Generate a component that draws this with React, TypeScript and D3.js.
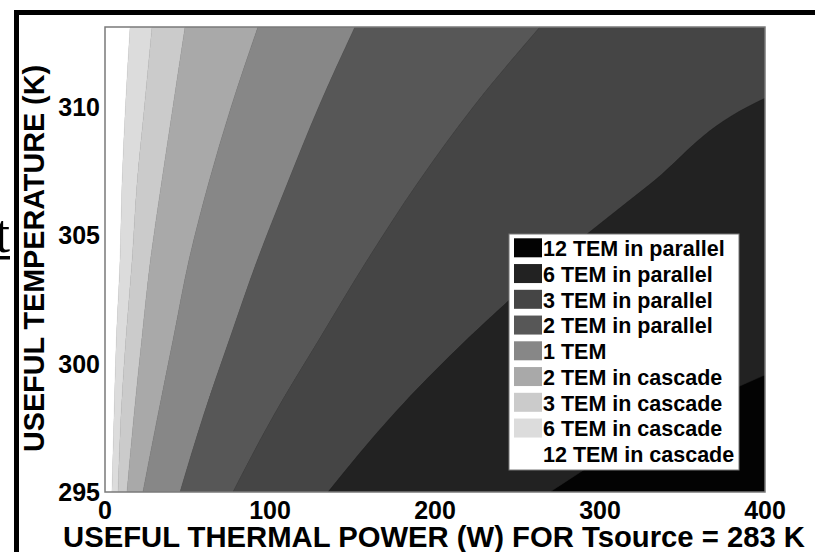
import React from "react";
import * as d3 from "d3";

// Temperature levels (K) at which the switching power of each boundary was read
const temperatures = [295, 298, 301, 304, 307, 310, 313.1];

// Switching power (W) between adjacent optimal configurations
const b12Cascade_6Cascade = [4.2, 5.5, 6.9, 9.1, 10.3, 12.4, 15.2];
const b6Cascade_3Cascade = [7.9, 9.7, 12.7, 16.4, 19.4, 23.9, 28.5];
const b3Cascade_2Cascade = [13.3, 17.6, 22.4, 27.5, 34.2, 41.2, 48.5];
const b2Cascade_1TEM = [23.0, 32.1, 41.5, 50.8, 62.7, 76.5, 92.7];
const b1TEM_2Parallel = [45.5, 59.8, 75.8, 92.2, 110.5, 129.6, 151.5];
const b2Parallel_3Parallel = [77.6, 102.4, 130.4, 158.7, 189.2, 223.3, 263.6];
const b3Parallel_6Parallel = [135.2, 174.5, 220.4, 272.4, 330.7, 389.7, 515.8];
const b6Parallel_12Parallel = [269.7, 347.9, 455.2, 590.9, 740, 900, 1080];

const boundaries = [
  b12Cascade_6Cascade,
  b6Cascade_3Cascade,
  b3Cascade_2Cascade,
  b2Cascade_1TEM,
  b1TEM_2Parallel,
  b2Parallel_3Parallel,
  b3Parallel_6Parallel,
  b6Parallel_12Parallel,
];

// Regions ordered from low power to high power
const regionLabels = [
  "12 TEM in cascade",
  "6 TEM in cascade",
  "3 TEM in cascade",
  "2 TEM in cascade",
  "1 TEM",
  "2 TEM in parallel",
  "3 TEM in parallel",
  "6 TEM in parallel",
  "12 TEM in parallel",
];
const regionColors = [
  "#ffffff",
  "#dcdcdc",
  "#cbcbcb",
  "#a9a9a9",
  "#878787",
  "#575757",
  "#454545",
  "#222222",
  "#030303",
];

const xTicks = [0, 100, 200, 300, 400];
const yTicks = [295, 300, 305, 310];
const xDomain = [0, 400];
const yDomain = [295, 313.1];

const FONT = "'Liberation Sans', Arial, Helvetica, sans-serif";

export default function App() {
  const W = 815;
  const H = 552;
  const left = 105,
    right = 765,
    top = 27,
    bottom = 492;
  const x = d3.scaleLinear().domain(xDomain).range([left, right]);
  const y = d3.scaleLinear().domain(yDomain).range([bottom, top]);

  const idx = temperatures.map((_, i) => i);
  const regionPaths = regionColors.slice(0, 8).map((c, k) => {
    const lo = k === 0 ? null : boundaries[k - 1];
    const hi = boundaries[k];
    const gen = d3
      .area<number>()
      .y((i) => y(temperatures[i]))
      .x0((i) => (lo ? x(lo[i]) : x(xDomain[0])))
      .x1((i) => x(hi[i]))
      .curve(d3.curveMonotoneY);
    return { d: gen(idx) || "", color: c };
  });

  const legendItems = regionLabels.slice().reverse();
  const legendColors = regionColors.slice().reverse();
  const lgX = 509,
    lgY = 234,
    lgW = 230,
    lgH = 236,
    step = 25.75;

  return (
    <svg
      width={W}
      height={H}
      style={{ position: "absolute", left: 0, top: 0, background: "#fff" }}
      fontFamily={FONT}
    >
      <defs>
        <clipPath id="plotClip">
          <rect x={left} y={top} width={right - left} height={bottom - top} />
        </clipPath>
      </defs>

      {/* stray document artifact */}
      <text x={-5} y={252} fontFamily="'Liberation Serif', 'Times New Roman', serif" fontSize={54}>
        t
      </text>
      <rect x={0} y={256} width={10} height={3.5} fill="#000" />

      {/* outer frame */}
      <rect x={14} y={10} width={801} height={5} fill="#000" />
      <rect x={14} y={10} width={5} height={542} fill="#000" />

      {/* plot regions */}
      <g clipPath="url(#plotClip)">
        <rect
          x={left}
          y={top}
          width={right - left}
          height={bottom - top}
          fill={regionColors[8]}
        />
        {regionPaths.map((r, i) => (
          <path key={i} d={r.d} fill={r.color} stroke={r.color} strokeWidth={0.5} />
        ))}
      </g>
      <rect
        x={left}
        y={top}
        width={right - left}
        height={bottom - top}
        fill="none"
        stroke="#7a7a7a"
        strokeWidth={1.5}
      />

      {/* y ticks */}
      {yTicks.map((t) => (
        <text
          key={t}
          x={100}
          y={y(t) + 9}
          textAnchor="end"
          fontSize={25}
          fontWeight="bold"
        >
          {t}
        </text>
      ))}
      {/* x ticks */}
      {xTicks.map((t) => (
        <text key={t} x={x(t)} y={519} textAnchor="middle" fontSize={25} fontWeight="bold">
          {t}
        </text>
      ))}

      {/* axis titles */}
      <text
        transform="translate(43.5,258.5) rotate(-90)"
        textAnchor="middle"
        fontSize={29}
        fontWeight="bold"
        textLength={387}
        lengthAdjust="spacingAndGlyphs"
      >
        USEFUL TEMPERATURE (K)
      </text>
      <text
        x={63}
        y={546.5}
        fontSize={29}
        fontWeight="bold"
        textLength={742}
        lengthAdjust="spacingAndGlyphs"
      >
        USEFUL THERMAL POWER (W) FOR Tsource = 283 K
      </text>

      {/* legend */}
      <rect x={lgX} y={lgY} width={lgW} height={lgH} fill="#fff" stroke="#777" strokeWidth={1} />
      {legendItems.map((lab, i) => (
        <g key={lab}>
          <rect
            x={514}
            y={238.3 + i * step}
            width={28}
            height={19}
            fill={legendColors[i]}
          />
          <text x={543} y={256 + i * step} fontSize={21.5} fontWeight="bold">
            {lab}
          </text>
        </g>
      ))}
    </svg>
  );
}
